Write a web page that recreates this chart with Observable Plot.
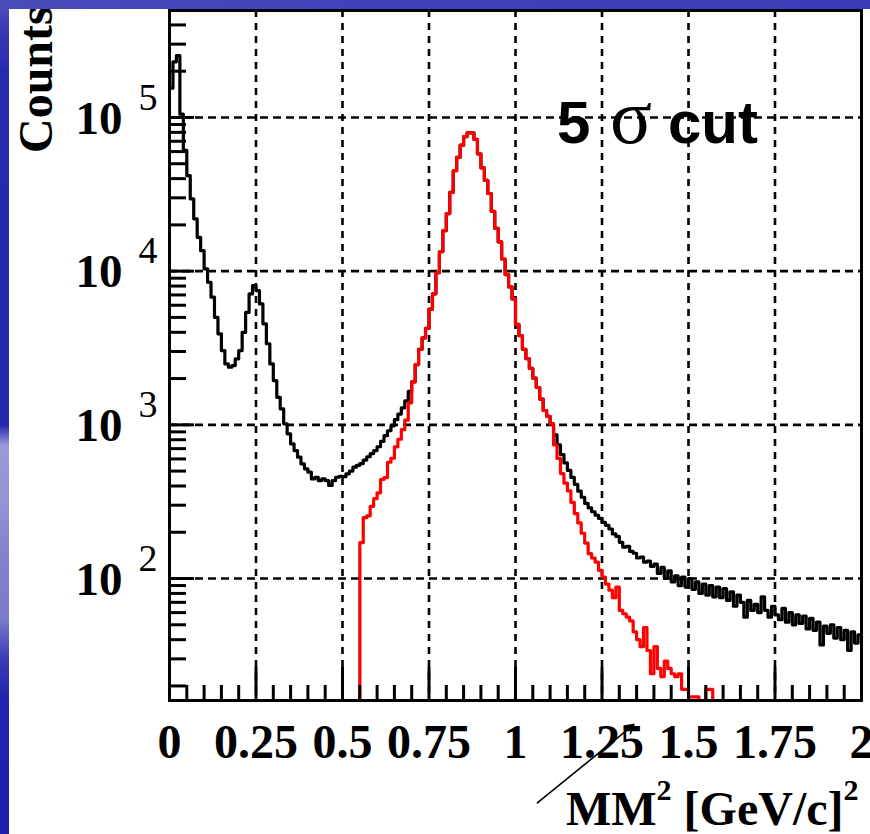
<!DOCTYPE html>
<html>
<head>
<meta charset="utf-8">
<script src="https://cdn.jsdelivr.net/npm/d3@7"></script>
<script src="https://cdn.jsdelivr.net/npm/@observablehq/plot@0.6"></script>
<style>
html, body { margin: 0; padding: 0; background: #fff; }
#wrap { position: relative; width: 870px; height: 834px; overflow: hidden; background: #fff; }
#chart { position: absolute; left: 0; top: 0; }
.strip-left { position: absolute; left: 0; top: 0; width: 9px; height: 834px;
  background: linear-gradient(to bottom, #5050bc 0px, #3a3ab4 30px, #2a2aae 70px, #2626ae 425px,
  #9a9ad8 445px, #9494d6 500px, #8080cc 560px, #7a7aca 620px, #3a3ab4 660px, #2222b0 700px, #1f1fae 834px); }
.strip-top { position: absolute; left: 0; top: 0; width: 870px; height: 9px;
  background: linear-gradient(to right, #4a4aba, #4040b8 50%, #3c3cb8); }
</style>
</head>
<body>
<div id="wrap"><div id="chart"></div><div class="strip-left"></div><div class="strip-top"></div></div>
<script>
// ---- data (bins of width 0.01 in MM^2) ----
const binWidth = 0.01;
const blackStart = 0.0;
const blackCounts = [
  155000, 230000, 253000, 105000, 61000, 41900, 29500, 21900, 16600, 13600,
  10350, 8470, 6770, 5010, 3910, 3040, 2490, 2370, 2430, 2690,
  3040, 4000, 5390, 7110, 8050, 7480, 6120, 4540, 3370, 2490,
  1940, 1510, 1270, 1015, 874, 752, 680, 616, 557, 517,
  492, 445, 456, 434, 445, 434, 403, 434, 456, 462,
  460, 480, 500, 530, 545, 560, 590, 620, 650, 680,
  720, 780, 850, 915, 985, 1080, 1175, 1290, 1430, 1650,
  1905, 2468, 3099, 3680, 4250, 5660, 7120, 9770, 13370, 18350,
  23700, 32600, 45000, 55000, 66000, 75000, 79500, 79500, 72000, 58000,
  47000, 39000, 32000, 24500, 19000, 15500, 12000, 9500, 7900, 6600,
  4500, 3800, 3100, 2700, 2330, 2015, 1750, 1472, 1240, 1137,
  1014, 860, 740, 640, 565, 505, 455, 410, 370, 338,
  308, 288, 272, 258, 246, 232, 222, 210, 195, 188,
  172, 160, 162, 150, 146, 136, 138, 128, 130, 120,
  124, 108, 118, 100, 112, 95, 104, 90, 102, 88,
  100, 85, 95, 80, 92, 78, 90, 76, 88, 75,
  86, 72, 82, 66, 78, 70, 56, 72, 62, 68,
  60, 76, 62, 56, 66, 58, 54, 64, 52, 60,
  50, 58, 51, 57, 47, 55, 46, 52, 37, 49,
  44, 50, 41, 48, 40, 46, 34, 45, 38, 43
];
const redStart = 0.55;
const redCounts = [
  171, 249, 256, 295, 331,
  361, 441, 454, 571, 606, 719, 806, 930, 1073, 1390,
  1905, 2468, 3099, 3680, 4250, 5660, 7120, 9770, 13370, 18350,
  23700, 32600, 45000, 55000, 66000, 75000, 79500, 79500, 72000, 58000,
  47000, 39000, 32000, 24500, 19000, 15500, 12000, 9500, 7900, 6600,
  4500, 3800, 3100, 2700, 2330, 2015, 1750, 1472, 1240, 1137,
  1014, 740, 605, 482, 417, 372, 313, 264, 230, 197,
  170, 145, 136, 128, 113, 102, 92, 84, 75, 88,
  62, 59, 56, 53, 45, 40, 36, 48, 34, 24,
  36, 26, 23, 29, 26, 24, 23, 24, 19, 19,
  17, 17, 17, 0, 0, 19, 19
];

// ---- axes ----
const xDomain = [0, 2];
const yDomain = [16.08, 496600];
const xLabelTicks = [0, 0.25, 0.5, 0.75, 1, 1.25, 1.5, 1.75, 2];
const xTickLabels = ["0", "0.25", "0.5", "0.75", "1", "1.25", "1.5", "1.75", "2"];
const xGrid = [0.25, 0.5, 0.75, 1, 1.25, 1.5, 1.75];
const yMajor = [100, 1000, 10000, 100000];
const yExponents = ["2", "3", "4", "5"];
const yMinor = [20, 30, 40, 50, 60, 70, 80, 90,
  200, 300, 400, 500, 600, 700, 800, 900,
  2000, 3000, 4000, 5000, 6000, 7000, 8000, 9000,
  20000, 30000, 40000, 50000, 60000, 70000, 80000, 90000,
  200000, 300000, 400000];
const xMinor = d3.range(1, 40).map(i => i * 0.05).filter(v => Math.abs(v / 0.25 - Math.round(v / 0.25)) > 1e-6);
const arrowNote = [{x1: 1.063, y1: 3.47, x2: 1.342, y2: 11.2}];

// histogram as step outline
const EMPTY = 1; // below the visible floor
function steps(start, counts, closeLeft) {
  const pts = [];
  if (closeLeft) pts.push({x: start, y: EMPTY});
  counts.forEach((c, i) => pts.push({x: start + i * binWidth, y: c > 0 ? c : EMPTY}));
  const end = start + counts.length * binWidth;
  pts.push({x: Math.min(end, 2), y: counts[counts.length - 1] > 0 ? counts[counts.length - 1] : EMPTY});
  return pts;
}
const blackSteps = steps(blackStart, blackCounts, false);
const redSteps = steps(redStart, redCounts, true);
redSteps.push({x: redStart + redCounts.length * binWidth, y: EMPTY});

const serif = "Liberation Serif, Times New Roman, serif";
const sans = "Liberation Sans, Arial, sans-serif";

const chart = Plot.plot({
  width: 870,
  height: 834,
  marginLeft: 169,
  marginRight: 9,
  marginTop: 10,
  marginBottom: 134,
  style: {background: "transparent", overflow: "visible"},
  x: {domain: xDomain},
  y: {type: "log", domain: yDomain},
  marks: [
    Plot.ruleX(xGrid, {stroke: "#000", strokeWidth: 2.6, strokeDasharray: "7,6"}),
    Plot.ruleY(yMajor, {stroke: "#000", strokeWidth: 2.6, strokeDasharray: "8,5"}),
    Plot.line(blackSteps, {x: "x", y: "y", curve: "step-after", stroke: "#000", strokeWidth: 3.2, clip: true}),
    Plot.line(redSteps, {x: "x", y: "y", curve: "step-after", stroke: "#ff0000", strokeWidth: 3.2, clip: true}),
    Plot.axisX({ticks: xMinor, anchor: "bottom", tickSize: -15, strokeWidth: 3, tickFormat: () => "", label: null}),
    Plot.axisX({ticks: xLabelTicks, anchor: "bottom", tickSize: -33, strokeWidth: 3, tickFormat: () => "", label: null}),
    Plot.axisY({ticks: yMinor, anchor: "left", tickSize: -17, strokeWidth: 3, tickFormat: () => "", label: null}),
    Plot.axisY({ticks: yMajor, anchor: "left", tickSize: -25, strokeWidth: 3, tickFormat: () => "", label: null}),
    Plot.frame({stroke: "#000", strokeWidth: 3}),
    Plot.axisX({ticks: xLabelTicks, anchor: "bottom", tickSize: 0, tickPadding: 23,
      tickFormat: d => xTickLabels[xLabelTicks.indexOf(d)], fontSize: 48, fontWeight: "bold",
      fontFamily: serif, label: null}),
    Plot.text(yMajor, {x: 0, y: d => d, text: () => "10", textAnchor: "end", dx: -47, dy: 1,
      fontSize: 47, fontWeight: "bold", fontFamily: serif}),
    Plot.text(yMajor, {x: 0, y: d => d, text: (d, i) => yExponents[i], textAnchor: "start", dx: -31, dy: -20,
      fontSize: 38, fontFamily: serif}),
    Plot.arrow(arrowNote, {x1: "x1", y1: "y1", x2: "x2", y2: "y2", stroke: "#000", strokeWidth: 1.6, headLength: 9})
  ]
});
document.getElementById("chart").appendChild(chart);

const svg = d3.select(chart);
// y-axis title
svg.append("text")
  .attr("transform", "translate(52,153) rotate(-90)")
  .attr("text-anchor", "start")
  .attr("font-family", serif).attr("font-weight", "bold").attr("font-size", 48)
  .attr("fill", "#000").text("Counts");
// x-axis title with superscripts
const xt = svg.append("text").attr("x", 566).attr("y", 825).attr("text-anchor", "start")
  .attr("font-family", serif).attr("font-weight", "bold").attr("font-size", 48).attr("fill", "#000");
xt.append("tspan").text("MM");
xt.append("tspan").attr("font-size", 30).attr("dy", -25).text("2");
xt.append("tspan").attr("font-size", 48).attr("dy", 25).text(" [GeV/c]");
xt.append("tspan").attr("font-size", 30).attr("dy", -25).text("2");
// annotation "5 σ cut"
const tt = svg.append("text").attr("y", 143).attr("text-anchor", "start")
  .attr("font-size", 60).attr("fill", "#000");
tt.append("tspan").attr("x", 557).attr("font-family", sans).attr("font-weight", "bold").text("5");
tt.append("tspan").attr("x", 610).attr("font-family", serif).attr("font-size", 78).text("σ");
tt.append("tspan").attr("x", 668).attr("font-family", sans).attr("font-weight", "bold").text("cut");
</script>
</body>
</html>
